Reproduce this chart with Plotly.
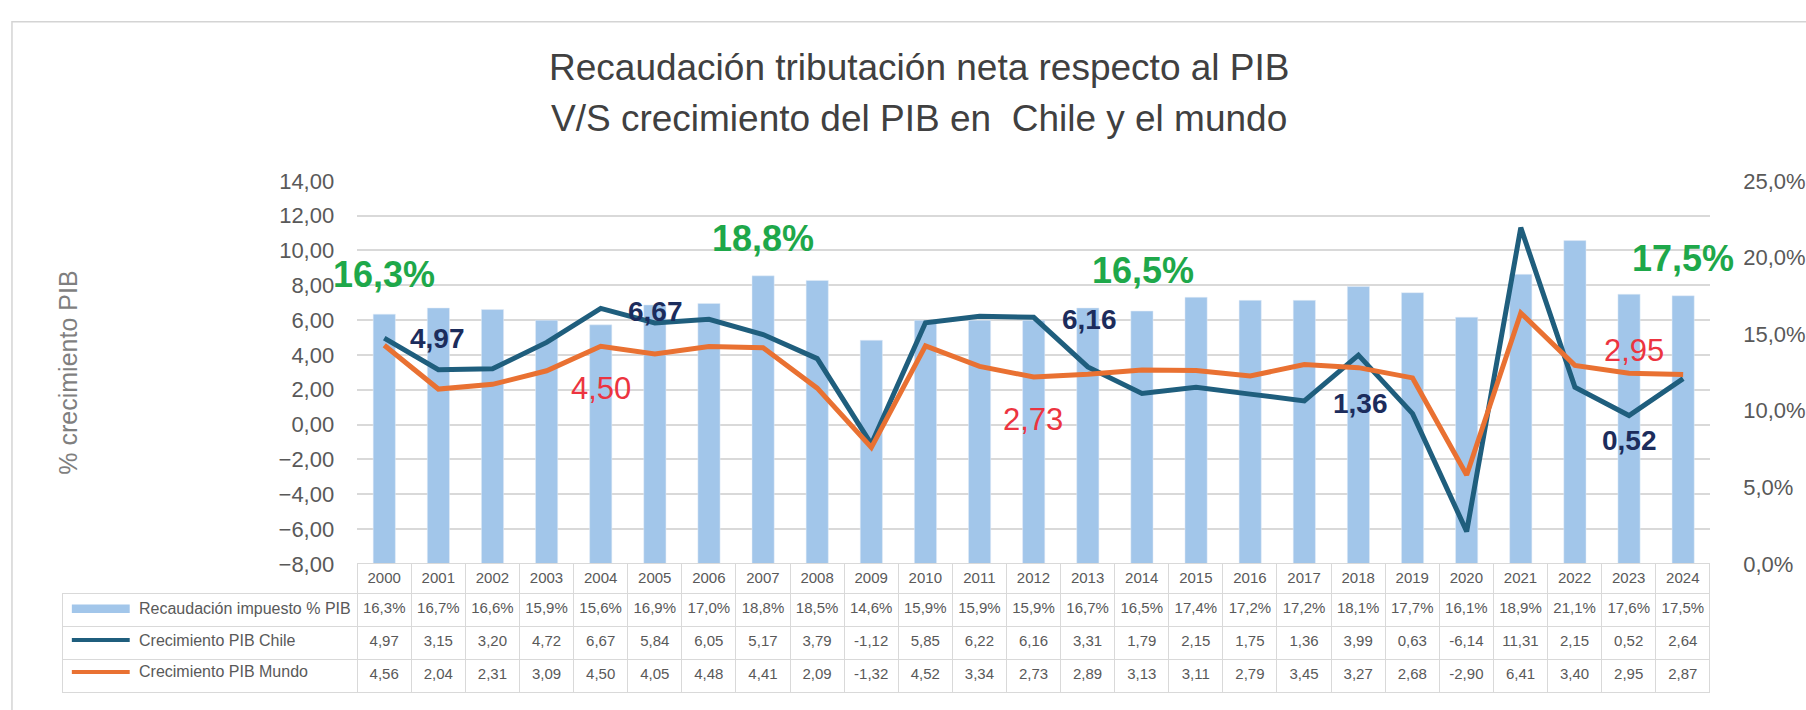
import plotly.graph_objects as go

# ---------------- data ----------------
years = [str(y) for y in range(2000, 2025)]
recaudacion = [16.3, 16.7, 16.6, 15.9, 15.6, 16.9, 17.0, 18.8, 18.5, 14.6, 15.9, 15.9, 15.9,
               16.7, 16.5, 17.4, 17.2, 17.2, 18.1, 17.7, 16.1, 18.9, 21.1, 17.6, 17.5]
pib_chile = [4.97, 3.15, 3.20, 4.72, 6.67, 5.84, 6.05, 5.17, 3.79, -1.12, 5.85, 6.22, 6.16,
             3.31, 1.79, 2.15, 1.75, 1.36, 3.99, 0.63, -6.14, 11.31, 2.15, 0.52, 2.64]
pib_mundo = [4.56, 2.04, 2.31, 3.09, 4.50, 4.05, 4.48, 4.41, 2.09, -1.32, 4.52, 3.34, 2.73,
             2.89, 3.13, 3.11, 2.79, 3.45, 3.27, 2.68, -2.90, 6.41, 3.40, 2.95, 2.87]

series_names = ["Recaudación impuesto % PIB", "Crecimiento PIB Chile", "Crecimiento PIB Mundo"]
title_lines = ["Recaudación tributación neta respecto al PIB",
               "V/S crecimiento del PIB en  Chile y el mundo"]
y_title = "% crecimiento PIB"

# highlighted labels: (year index of value, x position, y position on left axis)
green_labels = [(0, 0.00, 8.61), (7, 6.99, 10.67), (14, 14.02, 8.83), (24, 24.0, 9.56)]
navy_labels = [(0, 0.98, 4.94), (4, 5.02, 6.50), (12, 13.04, 6.06), (17, 18.03, 1.22), (23, 23.0, -0.89)]
red_labels = [(4, 4.0, 2.06), (12, 11.99, 0.28), (23, 23.1, 4.28)]

# ---------------- style ----------------
W, H = 1806, 710
PL, PR, PT, PB = 358, 1714, 175, 572
FONT = "Liberation Sans, Arial, sans-serif"
C_BAR = "#A2C6EA"
C_CHILE = "#1F5E7D"
C_MUNDO = "#E97132"
C_GREEN = "#1EA84A"
C_NAVY = "#1C2C5C"
C_RED = "#EC3440"
C_TXT = "#595959"
GRID = "#D9D9D9"


def fx(px):
    return px / W


def fy(py):
    return 1 - py / H


def fmt(v, d):
    return f"{v:.{d}f}".replace(".", ",")


fig = go.Figure()

fig.add_trace(go.Bar(x=years, y=recaudacion, name=series_names[0], marker_color=C_BAR,
                     yaxis="y", hoverinfo="skip"))
fig.add_trace(go.Scatter(x=years, y=pib_chile, name=series_names[1], mode="lines",
                         line=dict(color=C_CHILE, width=5), yaxis="y2"))
fig.add_trace(go.Scatter(x=years, y=pib_mundo, name=series_names[2], mode="lines",
                         line=dict(color=C_MUNDO, width=5), yaxis="y2"))

# data table under the chart
rec_txt = [fmt(v, 1) + "%" for v in recaudacion]
chile_txt = [fmt(v, 2) for v in pib_chile]
mundo_txt = [fmt(v, 2) for v in pib_mundo]
cols = [["", "", ""]] + [[rec_txt[i], chile_txt[i], mundo_txt[i]] for i in range(len(years))]
n = len(years)
fig.add_trace(go.Table(
    domain=dict(x=[fx(63), fx(PR)], y=[0, fy(PB)]),
    columnwidth=[295] + [(PR - PL) / n] * n,
    header=dict(values=[""] + years, height=30,
                fill=dict(color=["rgba(0,0,0,0)"] + ["white"] * n),
                line=dict(color=["rgba(0,0,0,0)"] + [GRID] * n, width=1),
                font=dict(family=FONT, size=15, color=C_TXT), align="center"),
    cells=dict(values=cols, height=33,
               fill=dict(color="white"),
               line=dict(color=GRID, width=1),
               font=dict(family=FONT, size=15, color=C_TXT), align="center"),
))

annotations = []
for i, t in enumerate(title_lines):
    annotations.append(dict(text=t, xref="paper", yref="paper", x=fx(921), y=fy(58 + 52 * i),
                            xanchor="center", yanchor="middle", showarrow=False,
                            font=dict(family=FONT, size=37, color="#404040")))
annotations.append(dict(text=y_title, xref="paper", yref="paper", x=fx(68), y=fy(374),
                        textangle=-90, xanchor="center", yanchor="middle", showarrow=False,
                        font=dict(family=FONT, size=25, color="#7F7F7F")))
for idx, xp, yp in green_labels:
    annotations.append(dict(text=fmt(recaudacion[idx], 1) + "%", xref="x", yref="y2", x=xp, y=yp,
                            showarrow=False, xanchor="center", yanchor="middle",
                            font=dict(family=FONT, size=36, color=C_GREEN, weight="bold")))
for idx, xp, yp in navy_labels:
    annotations.append(dict(text=fmt(pib_chile[idx], 2), xref="x", yref="y2", x=xp, y=yp,
                            showarrow=False, xanchor="center", yanchor="middle",
                            font=dict(family=FONT, size=28, color=C_NAVY, weight="bold")))
for idx, xp, yp in red_labels:
    annotations.append(dict(text=fmt(pib_mundo[idx], 2), xref="x", yref="y2", x=xp, y=yp,
                            showarrow=False, xanchor="center", yanchor="middle",
                            font=dict(family=FONT, size=31, color=C_RED)))
# row labels of the table
row_y = [618.5, 651, 683.5]
for name, ry in zip(series_names, row_y):
    annotations.append(dict(text=name, xref="paper", yref="paper", x=fx(137), y=fy(ry),
                            xanchor="left", yanchor="middle", showarrow=False,
                            font=dict(family=FONT, size=16, color=C_TXT)))

shapes = [
    # outer frame
    dict(type="rect", xref="paper", yref="paper", x0=fx(12), x1=1.02, y0=-0.02, y1=fy(10),
         line=dict(color="#D4D4D4", width=1.5), fillcolor="rgba(0,0,0,0)", layer="above"),
    # legend keys in the table
    dict(type="rect", xref="paper", yref="paper", x0=fx(72), x1=fx(130), y0=fy(623), y1=fy(614),
         fillcolor=C_BAR, line=dict(width=0), layer="above"),
    dict(type="line", xref="paper", yref="paper", x0=fx(72), x1=fx(130), y0=fy(651), y1=fy(651),
         line=dict(color=C_CHILE, width=4), layer="above"),
    dict(type="line", xref="paper", yref="paper", x0=fx(72), x1=fx(130), y0=fy(684), y1=fy(684),
         line=dict(color=C_MUNDO, width=4), layer="above"),
]

fig.update_layout(
    width=W, height=H, margin=dict(l=0, r=0, t=0, b=0),
    paper_bgcolor="white", plot_bgcolor="white",
    separators=",.", showlegend=False, bargap=0.59,
    font=dict(family=FONT, color=C_TXT),
    xaxis=dict(type="category", domain=[fx(PL), fx(PR)], range=[-0.5, n - 0.5],
               showticklabels=False, showgrid=False, zeroline=False, showline=False, ticks=""),
    yaxis=dict(domain=[fy(PB), fy(PT)], side="right", range=[0, 25], dtick=5,
               tickformat=".1f", ticksuffix="%", showgrid=False, zeroline=False, ticks="",
               ticklabelstandoff=32, tickfont=dict(family=FONT, size=22, color=C_TXT)),
    yaxis2=dict(overlaying="y", side="left", range=[-8, 14], dtick=2, tickformat=".2f",
                showgrid=True, gridcolor=GRID, gridwidth=1.5, zeroline=False, ticks="",
                ticklabelstandoff=22, tickfont=dict(family=FONT, size=22, color=C_TXT)),
    annotations=annotations, shapes=shapes,
)

fig.write_html("out.html", config={"displayModeBar": False},
               post_script="document.body.style.margin='0px';document.body.style.overflow='hidden';")
